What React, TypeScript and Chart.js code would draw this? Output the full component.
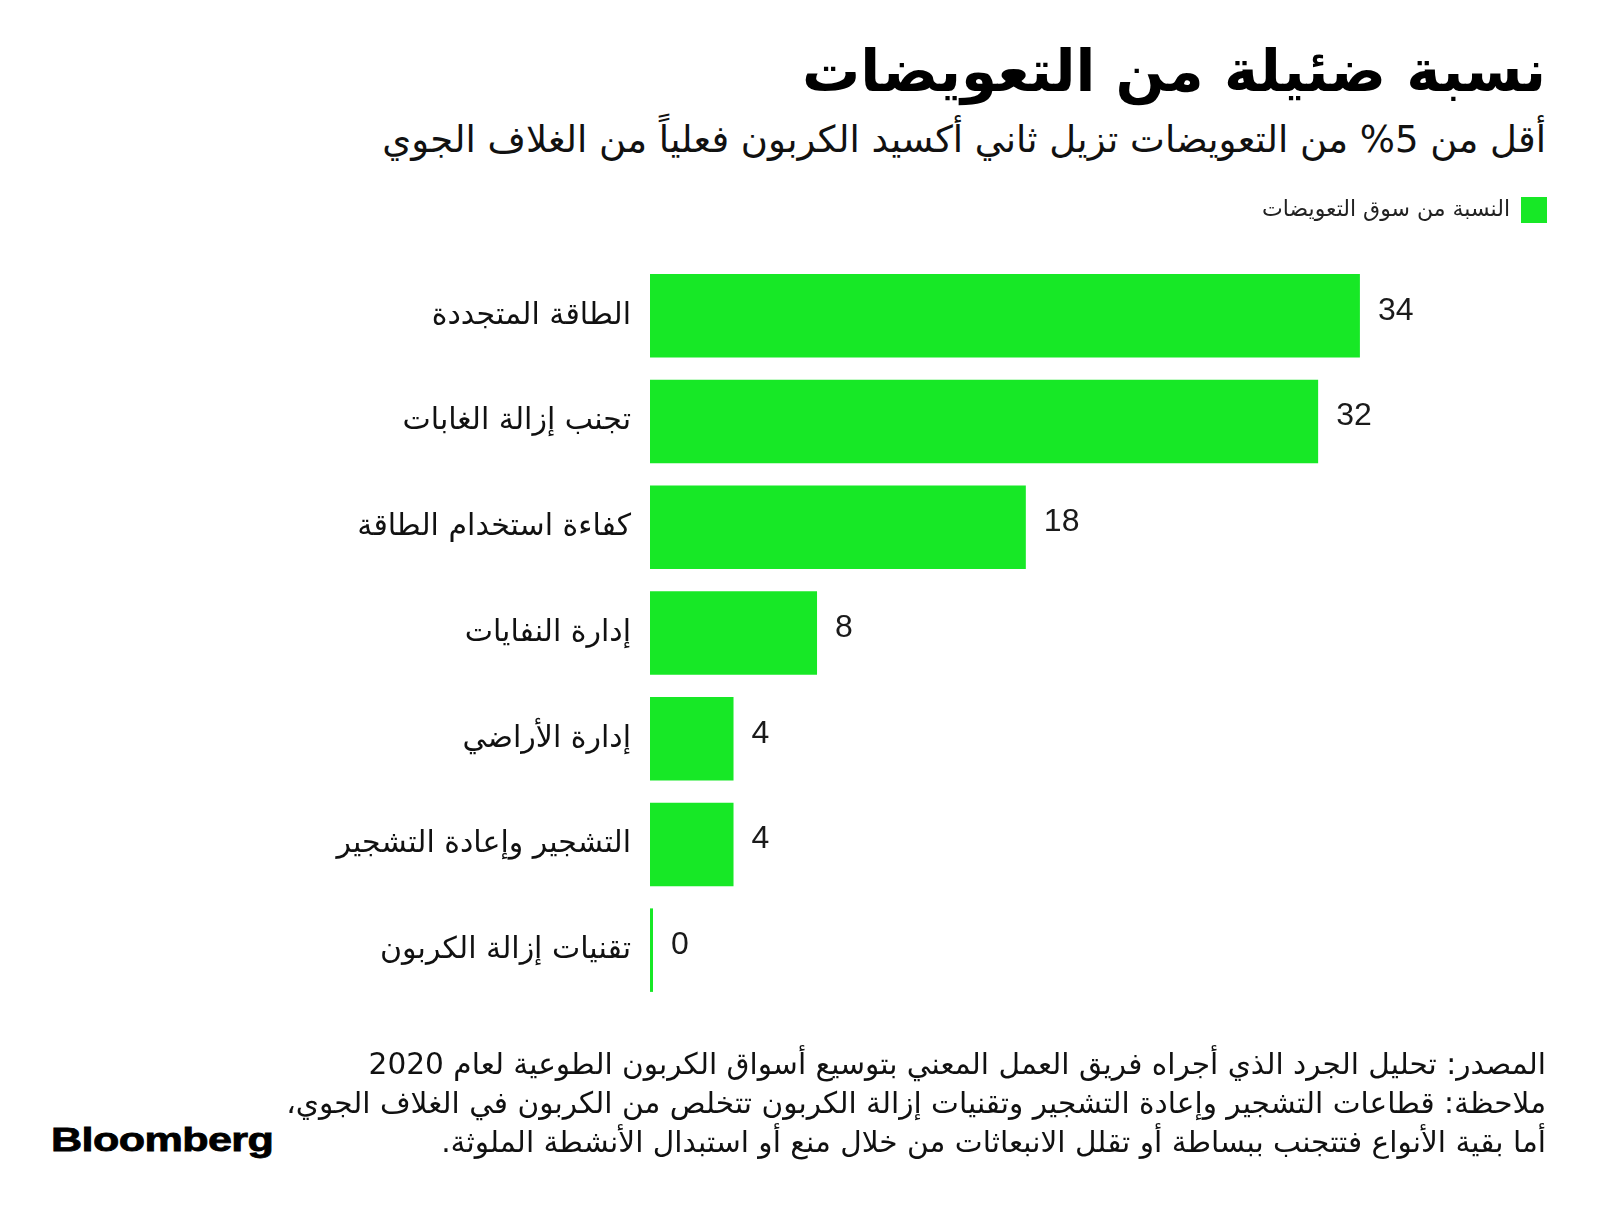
import React, { useEffect, useRef } from 'react';
import { Chart, registerables } from 'chart.js';

Chart.register(...registerables);

const TITLE = 'نسبة ضئيلة من التعويضات';
const SUBTITLE = 'أقل من 5% من التعويضات تزيل ثاني أكسيد الكربون فعلياً من الغلاف الجوي';
const LEGEND_LABEL = 'النسبة من سوق التعويضات';
const CATEGORIES = [
  'الطاقة المتجددة',
  'تجنب إزالة الغابات',
  'كفاءة استخدام الطاقة',
  'إدارة النفايات',
  'إدارة الأراضي',
  'التشجير وإعادة التشجير',
  'تقنيات إزالة الكربون',
];
const VALUES = [34, 32, 18, 8, 4, 4, 0];
const FOOTER_LINES = [
  'المصدر: تحليل الجرد الذي أجراه فريق العمل المعني بتوسيع أسواق الكربون الطوعية لعام 2020',
  'ملاحظة: قطاعات التشجير وإعادة التشجير وتقنيات إزالة الكربون تتخلص من الكربون في الغلاف الجوي،',
  'أما بقية الأنواع فتتجنب ببساطة أو تقلل الانبعاثات من خلال منع أو استبدال الأنشطة الملوثة.',
];
const X_MAX = 44.35;

const BAR_COLOR = '#17e826';
const AR_FONT = '"DejaVu Sans", sans-serif';

const valueLabels = {
  id: 'valueLabels',
  afterDatasetsDraw(chart: any) {
    const ctx = chart.ctx;
    const meta = chart.getDatasetMeta(0);
    ctx.save();
    ctx.font = '32px "Liberation Sans", Arial, sans-serif';
    ctx.fillStyle = '#1a1a1a';
    ctx.textAlign = 'left';
    ctx.textBaseline = 'middle';
    meta.data.forEach((bar: any, i: number) => {
      ctx.fillText(String(VALUES[i]), bar.x + 18, bar.y - 5);
    });
    ctx.restore();
  },
};

function BarChart() {
  const ref = useRef<HTMLCanvasElement | null>(null);
  useEffect(() => {
    if (!ref.current) return;
    const chart = new Chart(ref.current, {
      type: 'bar',
      data: {
        labels: CATEGORIES,
        datasets: [
          {
            label: LEGEND_LABEL,
            data: VALUES,
            backgroundColor: BAR_COLOR,
            borderWidth: 0,
            categoryPercentage: 1,
            barPercentage: 0.79,
            minBarLength: 3,
          },
        ],
      },
      options: {
        indexAxis: 'y',
        responsive: false,
        animation: false,
        devicePixelRatio: 1,
        layout: { padding: { top: 0, right: 24, bottom: 45, left: 0 } },
        scales: {
          x: { display: false, min: 0, max: X_MAX },
          spacer: {
            type: 'linear',
            position: 'top',
            display: true,
            grid: { display: false, drawTicks: false },
            border: { display: false },
            ticks: { display: false },
            afterFit: (s: any) => {
              s.height = 30;
            },
          },
          y: {
            grid: { display: false, drawTicks: false },
            border: { display: false },
            ticks: {
              padding: 19,
              color: '#111',
              font: { family: AR_FONT, size: 30 },
            },
            afterFit: (s: any) => {
              s.width = 650;
            },
          },
        },
        plugins: {
          legend: {
            display: true,
            position: 'top',
            align: 'start',
            rtl: true,
            textDirection: 'rtl',
            labels: {
              boxWidth: 26,
              boxHeight: 26,
              padding: 29,
              color: '#222',
              font: { family: AR_FONT, size: 22 },
            },
          },
          tooltip: { enabled: false },
        },
      },
      plugins: [valueLabels],
    });
    return () => chart.destroy();
  }, []);
  return (
    <canvas
      ref={ref}
      width={1600}
      height={880}
      style={{ position: 'absolute', left: 0, top: 168, width: 1600, height: 880 }}
    />
  );
}

export default function App() {
  const common: React.CSSProperties = {
    position: 'absolute',
    right: 54,
    direction: 'rtl',
    textAlign: 'right',
    whiteSpace: 'nowrap',
    fontFamily: AR_FONT,
    color: '#111',
  };
  return (
    <div style={{ position: 'absolute', left: 0, top: 0, width: 1600, height: 1216, background: '#fff', overflow: 'hidden' }}>
      <div style={{ ...common, top: 42, fontSize: 58, fontWeight: 700, lineHeight: '58px', color: '#000' }}>{TITLE}</div>
      <div style={{ ...common, top: 121, fontSize: 37, lineHeight: '37px' }}>{SUBTITLE}</div>
      <BarChart />
      <div style={{ ...common, top: 1045, fontSize: 29.6, lineHeight: '39px' }}>
        {FOOTER_LINES.map((l, i) => (
          <div key={i}>{l}</div>
        ))}
      </div>
      <div
        style={{
          position: 'absolute',
          left: 51,
          top: 1122,
          fontFamily: '"Liberation Sans", Arial, sans-serif',
          fontWeight: 700,
          fontSize: 34,
          lineHeight: '34px',
          color: '#000',
          transform: 'scaleX(1.27)',
          transformOrigin: 'left center',
          letterSpacing: '-0.5px',
          WebkitTextStroke: '0.8px #000',
        }}
      >
        Bloomberg
      </div>
    </div>
  );
}
